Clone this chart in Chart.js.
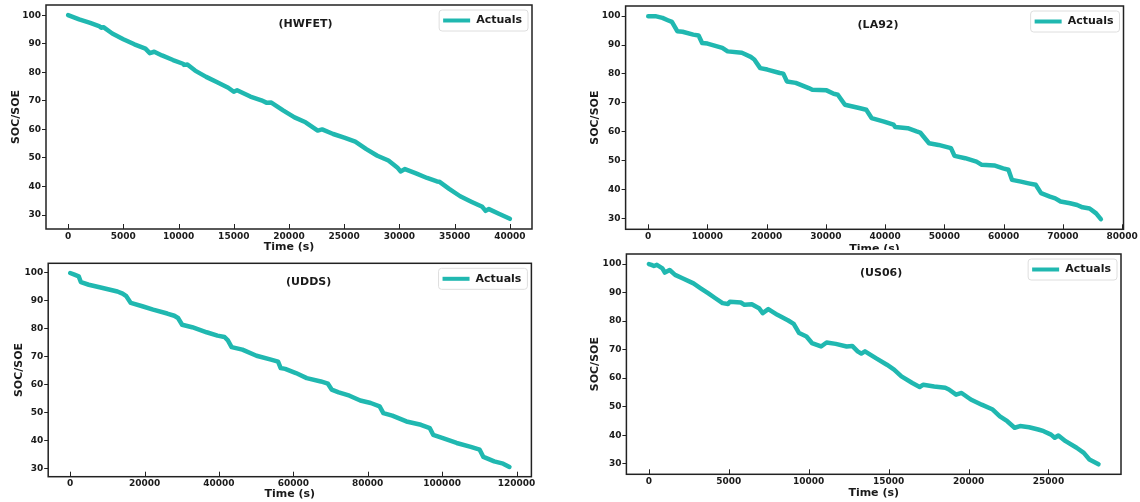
<!DOCTYPE html>
<html><head><meta charset="utf-8">
<script src="https://cdn.jsdelivr.net/npm/chart.js@4.4.1/dist/chart.umd.min.js"></script>
<style>
html,body{margin:0;padding:0;background:#fff;}
body{width:1140px;height:502px;position:relative;overflow:hidden;}
canvas{position:absolute;background:#fff;}
</style></head><body>
<canvas id="c1" width="560" height="256" style="left:0;top:0"></canvas>
<canvas id="c2" width="575" height="256" style="left:565px;top:0"></canvas>
<canvas id="c3" width="560" height="250" style="left:0;top:252px"></canvas>
<canvas id="c4" width="575" height="252" style="left:565px;top:250px"></canvas>
<script>
// ---------- DATA ----------
const hwfetTime = [0,1000,2000,2800,3000,3200,4000,5000,6000,7000,7400,7800,8500,9500,10400,10500,10800,11500,12500,13500,14500,15000,15300,16500,17500,18000,18400,19500,20500,21500,22600,23000,24000,25000,26000,27000,28000,29000,29800,30100,30500,31500,32500,33400,33600,34500,35500,36500,37500,37800,38100,39000,40000];
const hwfetSoc  = [100,98.5,97.3,96.2,95.6,95.8,93.6,91.6,89.8,88.3,86.7,87.2,85.9,84.3,83.0,82.6,82.7,80.6,78.4,76.5,74.6,73.2,73.7,71.5,70.2,69.3,69.4,66.6,64.2,62.5,59.6,60.0,58.4,57.1,55.7,53.1,50.8,49.1,46.7,45.3,46.1,44.6,43.0,41.8,41.7,39.2,36.6,34.7,32.9,31.5,32.1,30.5,28.7];

const la92Time = [0,1200,2400,3300,4000,4900,5800,7600,8500,9100,10000,12500,13400,15800,17300,17900,18900,20100,22200,22800,23400,24900,27100,27700,30100,31300,32000,33200,35600,36800,37700,39800,41400,41700,43800,45300,45900,47400,49000,51100,51700,53500,55400,56300,58400,59900,60800,61400,62900,64200,65400,66300,67800,68700,69600,71200,72400,73300,74500,75600,76400];
const la92Soc  = [100,100,99.4,98.6,98,94.8,94.6,93.6,93.3,90.7,90.5,89,87.8,87.3,85.9,85,82,81.5,80.3,80.1,77.4,76.9,75.1,74.5,74.3,73.1,72.8,69.3,68.2,67.6,64.7,63.5,62.4,61.6,61.2,60.1,59.7,56,55.4,54.3,51.6,50.8,49.6,48.5,48.3,47.3,46.8,43.3,42.7,42.1,41.6,38.7,37.5,36.9,35.8,35.2,34.6,33.8,33.4,31.7,29.7];

const uddsTime = [0,1150,2300,2900,5000,7900,12700,14100,15100,16300,19400,22300,26100,28000,29000,30100,32800,36700,39600,41500,42400,43400,46300,50100,54000,55900,56600,57800,60700,63600,67400,69300,70300,72200,75100,78000,80800,83200,84200,86600,90400,94300,96700,97600,100000,103900,107700,110100,111100,114000,116400,118100];
const uddsSoc  = [100,99.4,98.8,96.7,95.8,94.9,93.4,92.6,91.7,89.3,88.1,86.9,85.5,84.7,83.9,81.5,80.6,78.8,77.6,77.1,75.9,73.5,72.6,70.4,69,68.3,66,65.7,64.2,62.4,61.2,60.4,58.3,57.3,56.1,54.4,53.5,52.3,49.9,49,46.9,45.7,44.5,42.1,41,39.2,37.8,36.8,34.2,32.6,31.8,30.6];

const us06Time = [0,160,320,500,845,1000,1300,1640,2100,2790,3240,3700,4160,4610,4950,5070,5750,5980,6440,6890,7120,7470,8040,8720,9060,9400,9860,10200,10770,11120,11690,12370,12720,13060,13290,13520,14200,14890,15340,15800,16480,16940,17170,17850,18540,18770,19220,19560,20140,20820,21510,21960,22420,22880,23220,23790,24360,24700,25160,25390,25620,26070,26760,27210,27560,28130];
const us06Soc  = [100,99.7,99.3,99.7,98.5,97,97.9,96.2,95,93.2,91.5,89.8,88,86.3,86,86.8,86.5,85.7,85.9,84.5,82.8,84.2,82.2,80.2,79,75.8,74.6,72.3,71.1,72.5,72,71.1,71.3,69.4,68.6,69.4,67,64.7,63,60.6,58.3,56.9,57.7,57.1,56.6,56,54.2,54.8,52.5,50.7,49,46.6,44.9,42.6,43.2,42.8,42,41.4,40.2,39.1,39.9,37.9,35.6,33.8,31.5,29.8];

const hwfetXTicks = [0,5000,10000,15000,20000,25000,30000,35000,40000];
const la92XTicks  = [0,10000,20000,30000,40000,50000,60000,70000,80000];
const uddsXTicks  = [0,20000,40000,60000,80000,100000,120000];
const us06XTicks  = [0,5000,10000,15000,20000,25000];
const socTicks    = [30,40,50,60,70,80,90,100];

const panelTitles = ['(HWFET)','(LA92)','(UDDS)','(US06)'];
const seriesLabel = 'Actuals';
const xAxisTitle = 'Time (s)';
const yAxisTitle = 'SOC/SOE';

// ---------- STYLE ----------
const LINE = '#20B8B0';
const INK = '#1a1a1a';
const FONT = "'DejaVu Sans', sans-serif";
Chart.defaults.font.family = FONT;
Chart.defaults.font.weight = 'bold';
Chart.defaults.color = INK;

function padRange(arr){
  const mn = Math.min(...arr), mx = Math.max(...arr), m = (mx - mn) * 0.05;
  return [mn - m, mx + m];
}

const decorPlugin = {
  id: 'decor',
  afterDatasetsDraw(chart, args, opts){
    const ctx = chart.ctx, ca = chart.chartArea;
    ctx.save();
    // frame
    ctx.strokeStyle = '#222'; ctx.lineWidth = 1.5;
    ctx.strokeRect(ca.left, ca.top, ca.right - ca.left, ca.bottom - ca.top);
    // inward x ticks
    const xs = chart.scales.x;
    ctx.lineWidth = 1;
    ctx.beginPath();
    xs.ticks.forEach(t => {
      const px = Math.round(xs.getPixelForValue(t.value)) + 0.5;
      ctx.moveTo(px, ca.bottom); ctx.lineTo(px, ca.bottom - 5);
    });
    ctx.stroke();
    // inner title
    ctx.fillStyle = INK;
    ctx.font = 'bold 11px ' + FONT;
    ctx.textAlign = 'center'; ctx.textBaseline = 'middle';
    ctx.fillText(opts.text, ca.left + opts.frac * (ca.right - ca.left), ca.top + 19);
    // legend
    const ds = chart.data.datasets[0];
    ctx.font = 'bold 11px ' + FONT;
    const tw = ctx.measureText(ds.label).width;
    const textRight = ca.right - 10, textLeft = textRight - tw;
    const cy = ca.top + 15.5;
    const lineR = textLeft - 6, lineL = lineR - 27;
    const bx = lineL - 4, by = ca.top + 5, bw = textRight + 6 - bx, bh = 21;
    ctx.fillStyle = 'rgba(255,255,255,0.85)';
    ctx.strokeStyle = '#dedede'; ctx.lineWidth = 1;
    ctx.beginPath();
    ctx.roundRect(bx, by, bw, bh, 3);
    ctx.fill(); ctx.stroke();
    ctx.strokeStyle = ds.borderColor; ctx.lineWidth = 4;
    ctx.beginPath(); ctx.moveTo(lineL, cy); ctx.lineTo(lineR, cy); ctx.stroke();
    ctx.fillStyle = INK; ctx.textAlign = 'left'; ctx.textBaseline = 'middle';
    ctx.fillText(ds.label, textLeft, cy);
    ctx.restore();
  }
};

function zeroPad(s){ s.paddingLeft = 0; s.paddingRight = 0; s.paddingTop = 0; s.paddingBottom = 0; }

function makeChart(id, times, socs, xTicks, title, g){
  const [xmin, xmax] = padRange(times);
  const [ymin, ymax] = padRange(socs);
  return new Chart(document.getElementById(id), {
    type: 'line',
    data: { datasets: [{
      label: seriesLabel,
      data: times.map((t, i) => ({ x: t, y: socs[i] })),
      borderColor: LINE, backgroundColor: LINE, borderWidth: 4.5,
      pointRadius: 0, tension: 0, borderJoinStyle: 'round', borderCapStyle: 'round'
    }]},
    options: {
      responsive: false, animation: false, devicePixelRatio: 1,
      layout: { padding: { left: 0, top: g.padTop, right: g.padRight, bottom: 0 } },
      plugins: {
        legend: { display: false }, tooltip: { enabled: false }, title: { display: false },
        decor: { text: title, frac: g.titleFrac }
      },
      scales: {
        x: {
          type: 'linear', min: xmin, max: xmax,
          afterBuildTicks: s => { s.ticks = xTicks.map(v => ({ value: v })); },
          afterFit: s => { s.height = g.xHeight; zeroPad(s); },
          grid: { display: false, drawTicks: false }, border: { display: false },
          ticks: { font: { size: 9, weight: 'bold' }, color: INK, padding: 2, maxRotation: 0, autoSkip: false, callback: v => String(v) },
          title: { display: true, text: xAxisTitle, color: INK, font: { size: 11, weight: 'bold' }, padding: { top: 0, bottom: g.xTitlePad } }
        },
        y: {
          type: 'linear', min: ymin, max: ymax,
          afterBuildTicks: s => { s.ticks = socTicks.map(v => ({ value: v })); },
          afterFit: s => { s.width = g.yWidth; zeroPad(s); },
          grid: { display: true, drawOnChartArea: false, drawTicks: true, tickLength: 4, tickColor: '#222', lineWidth: 1 },
          border: { display: false },
          ticks: { font: { size: 9, weight: 'bold' }, color: INK, padding: 1, callback: v => String(v) },
          title: { display: true, text: yAxisTitle, color: INK, font: { size: 11, weight: 'bold' }, padding: { top: g.yTitlePad, bottom: 0 } }
        }
      }
    },
    plugins: [decorPlugin]
  });
}

makeChart('c1', hwfetTime, hwfetSoc, hwfetXTicks, panelTitles[0],
  { padTop: 5, padRight: 28, yWidth: 46, xHeight: 27, xTitlePad: 2.4, yTitlePad: 9.4, titleFrac: 0.534 });
makeChart('c2', la92Time, la92Soc, la92XTicks, panelTitles[1],
  { padTop: 6, padRight: 16.5, yWidth: 60.6, xHeight: 26.7, xTitlePad: 0.4, yTitlePad: 23.9, titleFrac: 0.507 });
makeChart('c3', uddsTime, uddsSoc, uddsXTicks, panelTitles[2],
  { padTop: 11.3, padRight: 28.6, yWidth: 48.2, xHeight: 25.3, xTitlePad: 1.1, yTitlePad: 13, titleFrac: 0.539 });
makeChart('c4', us06Time, us06Soc, us06XTicks, panelTitles[3],
  { padTop: 4, padRight: 19, yWidth: 61.4, xHeight: 27.7, xTitlePad: 2.1, yTitlePad: 23.9, titleFrac: 0.515 });
</script>
</body></html>
